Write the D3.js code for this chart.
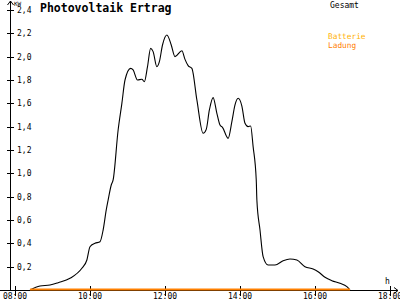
<!DOCTYPE html>
<html>
<script src="https://d3js.org/d3.v7.min.js"></script>
<style>
body {margin:0; background:#fff;}
text {font-family:"DejaVu Sans Mono", monospace;}
</style>
<body>
<svg width=400 height=300></svg>
<script>
    // Gesamt (kW) over time of day
    const times = ["08:24","08:40","08:56","09:09","09:28","09:47","09:55","10:00","10:08","10:16",
        "10:21","10:26","10:29","10:34","10:37","10:45","10:51","10:56","11:05","11:09",
        "11:16","11:23","11:27","11:32","11:37","11:41","11:47","11:51","11:56","12:03",
        "12:10","12:16","12:27","12:32","12:37","12:43","12:51","13:01","13:06","13:11",
        "13:17","13:23","13:28","13:32","13:41","13:47","13:52","13:57","14:03","14:08",
        "14:13","14:17","14:21","14:26","14:27","14:32","14:37","14:45","14:56","15:09",
        "15:20","15:31","15:44","15:57","16:05","16:16","16:27","16:40","16:51","16:56"];
    const gesamt = [0,0.034,0.043,0.063,0.10,0.186,0.257,0.371,0.40,0.414,
        0.514,0.686,0.771,0.90,0.943,1.371,1.60,1.80,1.90,1.886,
        1.80,1.806,1.786,1.914,2.071,2.043,1.914,1.957,2.10,2.186,
        2.10,2.00,2.051,1.977,1.923,1.90,1.629,1.343,1.377,1.543,
        1.649,1.514,1.414,1.394,1.30,1.443,1.586,1.643,1.577,1.429,
        1.40,1.406,1.229,0.943,0.771,0.514,0.286,0.214,0.214,0.251,
        0.266,0.257,0.20,0.180,0.157,0.109,0.080,0.057,0.029,0];
    // Batterie Ladung (kW), flat at zero
    const ladungTimes = ["08:24","16:56"];
    const ladung = [0,0];

    const xTicks = [8,10,12,14,16,18];
    const xTickLabels = ["08:00","10:00","12:00","14:00","16:00","18:00"];
    const yTicks = [0.2,0.4,0.6,0.8,1.0,1.2,1.4,1.6,1.8,2.0,2.2,2.4];

    const toHours = s => { const p = s.split(":"); return +p[0] + p[1]/60; };

    const svg = d3.select("svg");

    const x = d3.scaleLinear().domain([8, 18]).range([15, 390]);
    const y = d3.scaleLinear().domain([0, 2.4]).range([290, 10]);

    const axisX = 10.5, axisY = 290.5;

    // axes
    svg.append("line").attr("x1", axisX).attr("x2", axisX).attr("y1", 1).attr("y2", axisY)
        .attr("stroke", "#000");
    svg.append("path").attr("d", `M${axisX-3},5L${axisX},1L${axisX+3},5`)
        .attr("fill", "none").attr("stroke", "#000");
    svg.append("line").attr("x1", 0).attr("x2", 398).attr("y1", axisY).attr("y2", axisY)
        .attr("stroke", "#000");
    svg.append("path").attr("d", `M394,${axisY-3}L398,${axisY}L394,${axisY+3}`)
        .attr("fill", "none").attr("stroke", "#000");

    // y ticks
    svg.selectAll(".ytick").data(yTicks).enter().append("line")
        .attr("x1", 7).attr("x2", 14)
        .attr("y1", d => Math.round(y(d)) + 0.5).attr("y2", d => Math.round(y(d)) + 0.5)
        .attr("stroke", "#000");
    svg.selectAll(".ylab").data(yTicks).enter().append("text")
        .attr("x", 17).attr("y", d => Math.round(y(d)) + 3)
        .attr("font-size", 8)
        .text(d => d.toFixed(1).replace(".", ","));

    // x ticks
    svg.selectAll(".xtick").data(xTicks).enter().append("line")
        .attr("x1", d => Math.round(x(d)) + 0.5).attr("x2", d => Math.round(x(d)) + 0.5)
        .attr("y1", 286).attr("y2", 296)
        .attr("stroke", "#000");
    svg.selectAll(".xlab").data(xTicks).enter().append("text")
        .attr("x", d => x(d)).attr("y", 299)
        .attr("text-anchor", "middle").attr("font-size", 8)
        .text((d, i) => xTickLabels[i]);

    // axis units
    svg.append("text").attr("x", 14).attr("y", 6).attr("font-size", 6).text("KW");
    svg.append("text").attr("x", 385).attr("y", 284).attr("font-size", 8).text("h");

    // title
    svg.append("text").attr("x", 40).attr("y", 12).attr("font-size", 11.5)
        .attr("font-weight", "bold").text("Photovoltaik Ertrag");

    // legend
    svg.append("text").attr("x", 330).attr("y", 8).attr("font-size", 8).text("Gesamt");
    svg.append("text").attr("x", 328).attr("y", 39).attr("font-size", 7.8)
        .attr("fill", "#ffb000").text("Batterie");
    svg.append("text").attr("x", 328).attr("y", 47.5).attr("font-size", 7.8)
        .attr("fill", "#ff8000").text("Ladung");

    // series
    const line = d3.line()
        .x(d => x(d[0]))
        .y(d => y(d[1]))
        .curve(d3.curveMonotoneX);

    svg.append("path")
        .datum(times.map((t, i) => [toHours(t), gesamt[i]]))
        .attr("d", line)
        .attr("fill", "none").attr("stroke", "#000").attr("stroke-width", 1.1);

    svg.append("path")
        .datum(ladungTimes.map((t, i) => [toHours(t), ladung[i]]))
        .attr("d", d3.line().x(d => x(d[0])).y(d => y(d[1]) - 0.5))
        .attr("fill", "none").attr("stroke", "#ff8000").attr("stroke-width", 2);
</script>
</body>
</html>
